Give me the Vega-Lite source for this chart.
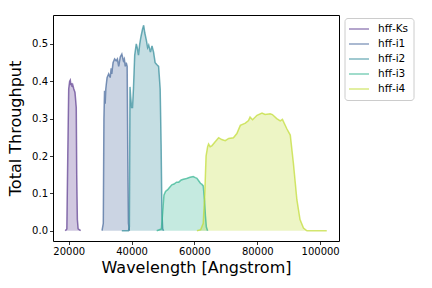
{
  "$schema": "https://vega.github.io/schema/vega-lite/v6.json",
  "autosize": "none",
  "width": 286,
  "height": 226,
  "padding": {"left": 53, "top": 15, "right": 93, "bottom": 47},
  "background": "white",
  "config": {
    "font": "DejaVu Sans",
    "view": {"stroke": "#000", "strokeWidth": 1},
    "axis": {
      "domain": false, "grid": false, "tickColor": "#000", "tickSize": 3.5, "tickWidth": 0.8,
      "labelFont": "DejaVu Sans", "labelFontSize": 10, "labelColor": "#000", "labelPadding": 2,
      "titleFont": "DejaVu Sans", "titleFontSize": 16, "titleFontWeight": "normal", "titleColor": "#000"
    }
  },
  "data": {"values": [
    {"f":"hff-Ks","w":18900,"t":0},{"f":"hff-Ks","w":19400,"t":0.005},{"f":"hff-Ks","w":19700,"t":0.2},{"f":"hff-Ks","w":20000,"t":0.38},{"f":"hff-Ks","w":20300,"t":0.40},{"f":"hff-Ks","w":20500,"t":0.403},{"f":"hff-Ks","w":20700,"t":0.39},{"f":"hff-Ks","w":20900,"t":0.395},{"f":"hff-Ks","w":21100,"t":0.385},{"f":"hff-Ks","w":21300,"t":0.39},{"f":"hff-Ks","w":21600,"t":0.38},{"f":"hff-Ks","w":22000,"t":0.37},{"f":"hff-Ks","w":22400,"t":0.33},{"f":"hff-Ks","w":22550,"t":0.15},{"f":"hff-Ks","w":22750,"t":0.03},{"f":"hff-Ks","w":23000,"t":0.005},{"f":"hff-Ks","w":23800,"t":0},
    {"f":"hff-i1","w":30600,"t":0},{"f":"hff-i1","w":31000,"t":0.02},{"f":"hff-i1","w":31200,"t":0.30},{"f":"hff-i1","w":31400,"t":0.375},{"f":"hff-i1","w":31600,"t":0.34},{"f":"hff-i1","w":31800,"t":0.38},{"f":"hff-i1","w":32200,"t":0.41},{"f":"hff-i1","w":32700,"t":0.42},{"f":"hff-i1","w":33200,"t":0.41},{"f":"hff-i1","w":33500,"t":0.435},{"f":"hff-i1","w":33700,"t":0.42},{"f":"hff-i1","w":34100,"t":0.45},{"f":"hff-i1","w":34600,"t":0.46},{"f":"hff-i1","w":35100,"t":0.455},{"f":"hff-i1","w":35500,"t":0.46},{"f":"hff-i1","w":35900,"t":0.44},{"f":"hff-i1","w":36400,"t":0.465},{"f":"hff-i1","w":36900,"t":0.473},{"f":"hff-i1","w":37400,"t":0.455},{"f":"hff-i1","w":37700,"t":0.46},{"f":"hff-i1","w":38000,"t":0.44},{"f":"hff-i1","w":38300,"t":0.45},{"f":"hff-i1","w":38600,"t":0.44},{"f":"hff-i1","w":38800,"t":0.2},{"f":"hff-i1","w":39000,"t":0.02},{"f":"hff-i1","w":39300,"t":0},
    {"f":"hff-i2","w":36900,"t":0},{"f":"hff-i2","w":39000,"t":0},{"f":"hff-i2","w":39300,"t":0.01},{"f":"hff-i2","w":39500,"t":0.385},{"f":"hff-i2","w":39700,"t":0.36},{"f":"hff-i2","w":40000,"t":0.33},{"f":"hff-i2","w":40300,"t":0.33},{"f":"hff-i2","w":40600,"t":0.38},{"f":"hff-i2","w":41000,"t":0.47},{"f":"hff-i2","w":41500,"t":0.50},{"f":"hff-i2","w":41800,"t":0.49},{"f":"hff-i2","w":42200,"t":0.47},{"f":"hff-i2","w":42600,"t":0.50},{"f":"hff-i2","w":43000,"t":0.52},{"f":"hff-i2","w":43500,"t":0.54},{"f":"hff-i2","w":43850,"t":0.55},{"f":"hff-i2","w":44200,"t":0.53},{"f":"hff-i2","w":44700,"t":0.51},{"f":"hff-i2","w":45100,"t":0.49},{"f":"hff-i2","w":45450,"t":0.497},{"f":"hff-i2","w":46000,"t":0.478},{"f":"hff-i2","w":46500,"t":0.495},{"f":"hff-i2","w":47000,"t":0.478},{"f":"hff-i2","w":47500,"t":0.45},{"f":"hff-i2","w":48000,"t":0.445},{"f":"hff-i2","w":48600,"t":0.44},{"f":"hff-i2","w":49100,"t":0.38},{"f":"hff-i2","w":49400,"t":0.23},{"f":"hff-i2","w":49650,"t":0.05},{"f":"hff-i2","w":49900,"t":0.005},{"f":"hff-i2","w":50200,"t":0},
    {"f":"hff-i3","w":48000,"t":0},{"f":"hff-i3","w":49500,"t":0.005},{"f":"hff-i3","w":49900,"t":0.05},{"f":"hff-i3","w":50300,"t":0.095},{"f":"hff-i3","w":50800,"t":0.105},{"f":"hff-i3","w":51500,"t":0.11},{"f":"hff-i3","w":52000,"t":0.115},{"f":"hff-i3","w":52800,"t":0.123},{"f":"hff-i3","w":53500,"t":0.125},{"f":"hff-i3","w":54300,"t":0.13},{"f":"hff-i3","w":55000,"t":0.13},{"f":"hff-i3","w":55800,"t":0.136},{"f":"hff-i3","w":56500,"t":0.138},{"f":"hff-i3","w":57500,"t":0.14},{"f":"hff-i3","w":58600,"t":0.143},{"f":"hff-i3","w":59600,"t":0.145},{"f":"hff-i3","w":60300,"t":0.142},{"f":"hff-i3","w":60800,"t":0.14},{"f":"hff-i3","w":61400,"t":0.133},{"f":"hff-i3","w":61900,"t":0.127},{"f":"hff-i3","w":62400,"t":0.124},{"f":"hff-i3","w":62800,"t":0.12},{"f":"hff-i3","w":63200,"t":0.083},{"f":"hff-i3","w":63500,"t":0.04},{"f":"hff-i3","w":63800,"t":0.01},{"f":"hff-i3","w":64200,"t":0},
    {"f":"hff-i4","w":60800,"t":0},{"f":"hff-i4","w":62000,"t":0.003},{"f":"hff-i4","w":62800,"t":0.02},{"f":"hff-i4","w":63300,"t":0.1},{"f":"hff-i4","w":63700,"t":0.2},{"f":"hff-i4","w":64200,"t":0.225},{"f":"hff-i4","w":64500,"t":0.232},{"f":"hff-i4","w":65000,"t":0.225},{"f":"hff-i4","w":65600,"t":0.228},{"f":"hff-i4","w":66600,"t":0.238},{"f":"hff-i4","w":67700,"t":0.249},{"f":"hff-i4","w":68700,"t":0.244},{"f":"hff-i4","w":69800,"t":0.241},{"f":"hff-i4","w":70900,"t":0.247},{"f":"hff-i4","w":72400,"t":0.249},{"f":"hff-i4","w":73500,"t":0.26},{"f":"hff-i4","w":74600,"t":0.282},{"f":"hff-i4","w":76200,"t":0.288},{"f":"hff-i4","w":77200,"t":0.295},{"f":"hff-i4","w":77700,"t":0.304},{"f":"hff-i4","w":78500,"t":0.297},{"f":"hff-i4","w":79900,"t":0.309},{"f":"hff-i4","w":81500,"t":0.315},{"f":"hff-i4","w":82500,"t":0.311},{"f":"hff-i4","w":84100,"t":0.313},{"f":"hff-i4","w":84800,"t":0.311},{"f":"hff-i4","w":86200,"t":0.30},{"f":"hff-i4","w":87300,"t":0.294},{"f":"hff-i4","w":88000,"t":0.298},{"f":"hff-i4","w":89400,"t":0.273},{"f":"hff-i4","w":90500,"t":0.256},{"f":"hff-i4","w":91500,"t":0.18},{"f":"hff-i4","w":92600,"t":0.083},{"f":"hff-i4","w":93600,"t":0.03},{"f":"hff-i4","w":94700,"t":0.007},{"f":"hff-i4","w":95800,"t":0},{"f":"hff-i4","w":102100,"t":0}
  ]},
  "encoding": {
    "x": {"field": "w", "type": "quantitative", "scale": {"domain": [15000, 106000], "nice": false, "zero": false},
      "axis": {"values": [20000, 40000, 60000, 80000, 100000], "format": "d", "title": "Wavelength [Angstrom]", "titlePadding": 3}},
    "y": {"field": "t", "type": "quantitative", "stack": null, "scale": {"domain": [-0.0275, 0.5775], "nice": false, "zero": false},
      "axis": {"values": [0, 0.1, 0.2, 0.3, 0.4, 0.5], "format": ".1f", "title": "Total Throughput", "titlePadding": 8}},
    "color": {"field": "f", "type": "nominal",
      "scale": {"domain": ["hff-Ks", "hff-i1", "hff-i2", "hff-i3", "hff-i4"], "range": ["#5b3a8f", "#45669a", "#2f8a99", "#2fb28e", "#c0dc30"]},
      "legend": {"title": null, "orient": "none", "legendX": 291.5, "legendY": 3, "symbolType": "M-2,0H2", "symbolStrokeWidth": 2, "symbolOpacity": 0.45, "symbolSize": 100, "symbolFillColor": "transparent", "symbolOffset": 3.5,
         "labelFont": "DejaVu Sans", "labelFontSize": 10.5, "labelColor": "#000", "rowPadding": 3, "padding": 5, "strokeColor": "#ccc", "cornerRadius": 3, "fillColor": "white", "labelOffset": 13}}
  },
  "layer": [
    {"mark": {"type": "area", "fillOpacity": 0.28, "interpolate": "linear"},
     "encoding": {"y2": {"datum": 0}}},
    {"mark": {"type": "line", "strokeWidth": 1.5, "strokeOpacity": 0.7}}
  ]
}
